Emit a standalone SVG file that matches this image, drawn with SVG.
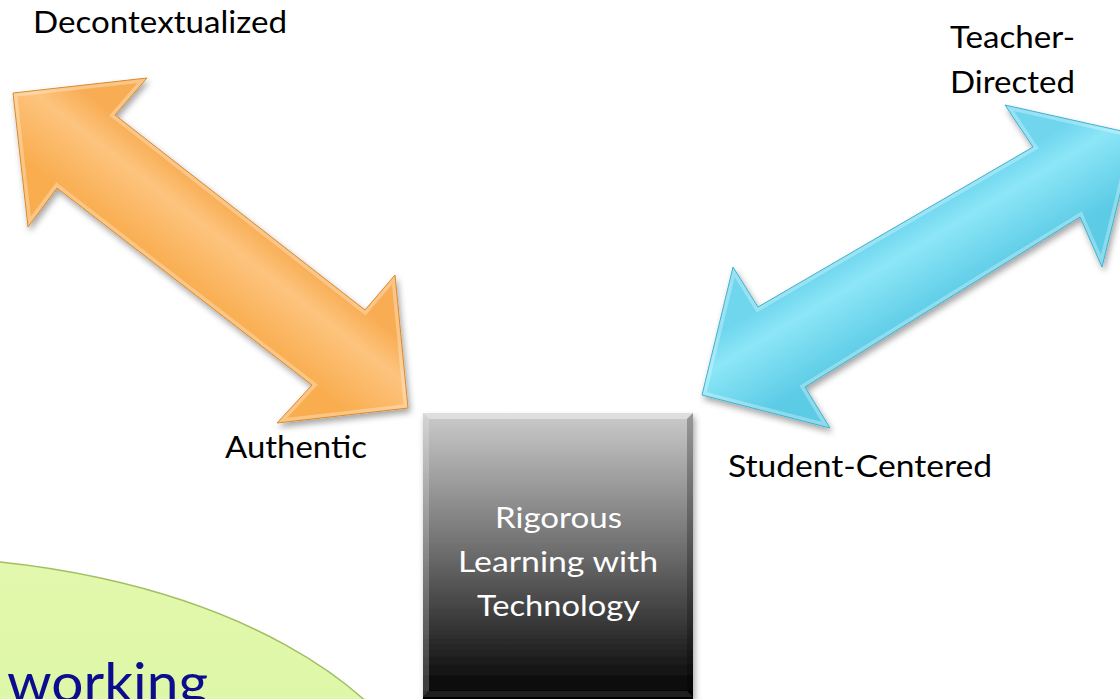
<svg xmlns="http://www.w3.org/2000/svg" width="1120" height="699" viewBox="0 0 1120 699">
<defs>
<style>
.lbl{font-family:Lato,"Open Sans","Liberation Sans",sans-serif;font-size:30px;fill:#000}
.box{font-family:Lato,"Open Sans","Liberation Sans",sans-serif;font-size:29px;fill:#fff}
.big{font-family:Lato,"Open Sans","Liberation Sans",sans-serif;font-size:55px;fill:#0c0c8f}
</style>
<filter id="sh" x="-20%" y="-20%" width="140%" height="140%">
<feGaussianBlur in="SourceAlpha" stdDeviation="3"/>
<feOffset dx="2" dy="4" result="b"/>
<feFlood flood-color="#000" flood-opacity="0.35"/>
<feComposite in2="b" operator="in"/>
<feMerge><feMergeNode/><feMergeNode in="SourceGraphic"/></feMerge>
</filter>
<linearGradient id="gO" gradientUnits="userSpaceOnUse" x1="240" y1="212" x2="183" y2="285">
<stop offset="0" stop-color="#f8ac52"/>
<stop offset="0.35" stop-color="#fdc47e"/>
<stop offset="1" stop-color="#f9ad4f"/>
</linearGradient>
<linearGradient id="gB" gradientUnits="userSpaceOnUse" x1="895" y1="227" x2="943" y2="307">
<stop offset="0" stop-color="#6fd6ee"/>
<stop offset="0.3" stop-color="#8ce6f7"/>
<stop offset="1" stop-color="#5ccbe6"/>
</linearGradient>
<linearGradient id="gK" x1="0" y1="0" x2="0" y2="1">
<stop offset="0" stop-color="#cbcbcb"/>
<stop offset="0.5" stop-color="#6a6a6a"/>
<stop offset="1" stop-color="#000"/>
</linearGradient>
<linearGradient id="gG" x1="0" y1="0" x2="0" y2="1">
<stop offset="0" stop-color="#e2f9ad"/>
<stop offset="1" stop-color="#d4ef98"/>
</linearGradient>
<clipPath id="cO"><polygon points="13,93 147,78 115,115 365,310 395,275 408,408 277,423 312,385 57,188 28,227"/></clipPath>
<clipPath id="cB"><polygon points="702,395 733,267 758,307 1033,147 1005,105 1135,134 1102,267 1080,217 805,387 830,428"/></clipPath>
</defs>

<g id="ellipse">
<ellipse cx="-100" cy="857" rx="545" ry="300" fill="url(#gG)" stroke="#a2bf62" stroke-width="1.5"/>
<text class="big" x="7" y="702" textLength="201" lengthAdjust="spacingAndGlyphs">working</text>
</g>

<g id="connectors">
<g id="arrow-orange" filter="url(#sh)">
<polygon points="13,93 147,78 115,115 365,310 395,275 408,408 277,423 312,385 57,188 28,227" fill="url(#gO)"/>
<polygon points="13,93 147,78 115,115 365,310 395,275 408,408 277,423 312,385 57,188 28,227" fill="none" stroke="#fff" stroke-opacity="0.3" stroke-width="8" clip-path="url(#cO)"/>
<polygon points="13,93 147,78 115,115 365,310 395,275 408,408 277,423 312,385 57,188 28,227" fill="none" stroke="#d98a2e" stroke-width="1"/>
</g>
<g id="arrow-blue" filter="url(#sh)">
<polygon points="702,395 733,267 758,307 1033,147 1005,105 1135,134 1102,267 1080,217 805,387 830,428" fill="url(#gB)"/>
<polygon points="702,395 733,267 758,307 1033,147 1005,105 1135,134 1102,267 1080,217 805,387 830,428" fill="none" stroke="#fff" stroke-opacity="0.3" stroke-width="8" clip-path="url(#cB)"/>
<polygon points="702,395 733,267 758,307 1033,147 1005,105 1135,134 1102,267 1080,217 805,387 830,428" fill="none" stroke="#3fb2cf" stroke-width="1"/>
</g>
</g>

<g id="node-center">
<rect x="423" y="413" width="270" height="286" fill="url(#gK)" filter="url(#sh)"/>
<polygon points="423,413 693,413 687,419 429,419" fill="#fff" fill-opacity="0.4"/>
<polygon points="423,413 429,419 429,691 423,697" fill="#fff" fill-opacity="0.2"/>
<polygon points="693,413 693,697 687,691 687,419" fill="#000" fill-opacity="0.25"/>
<polygon points="423,697 693,697 687,691 429,691" fill="#333" fill-opacity="0.6"/>
<text class="box" x="495" y="528" textLength="127" lengthAdjust="spacingAndGlyphs">Rigorous</text>
<text class="box" x="458" y="572" textLength="200" lengthAdjust="spacingAndGlyphs">Learning with</text>
<text class="box" x="477" y="616" textLength="163" lengthAdjust="spacingAndGlyphs">Technology</text>
</g>

<g id="labels">
<text class="lbl" x="33" y="33" textLength="254" lengthAdjust="spacingAndGlyphs">Decontextualized</text>
<text class="lbl" x="950" y="48" textLength="125" lengthAdjust="spacingAndGlyphs">Teacher-</text>
<text class="lbl" x="950" y="93" textLength="125" lengthAdjust="spacingAndGlyphs">Directed</text>
<text class="lbl" x="225" y="458" textLength="142" lengthAdjust="spacingAndGlyphs">Authentic</text>
<text class="lbl" x="728" y="477" textLength="264" lengthAdjust="spacingAndGlyphs">Student-Centered</text>
</g>
</svg>
